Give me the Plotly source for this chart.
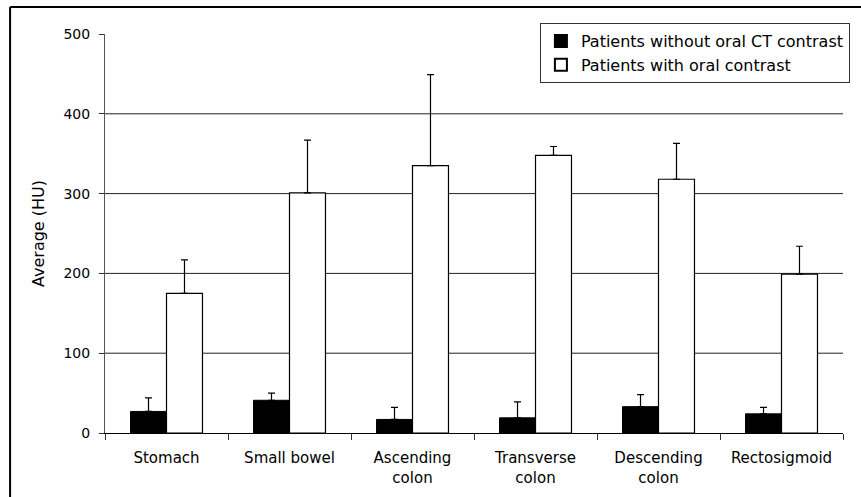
import plotly.graph_objects as go

# Mean attenuation (HU) per bowel segment, with upper standard-deviation whiskers
segments = ["Stomach", "Small bowel", "Ascending<br>colon", "Transverse<br>colon",
            "Descending<br>colon", "Rectosigmoid"]
without_contrast = [27, 41, 17, 19, 33, 24]
without_contrast_sd = [17, 9, 15, 20, 15, 8]
with_contrast = [175, 301, 335, 348, 318, 199]
with_contrast_sd = [42, 66, 114, 11, 45, 35]
y_ticks = [0, 100, 200, 300, 400, 500]
grid_values = [100, 200, 300, 400]

FONT = "DejaVu Sans"

fig = go.Figure()
fig.add_trace(go.Bar(
    x=segments, y=without_contrast, name="Patients without oral CT contrast",
    marker=dict(color="black", line=dict(color="black", width=1)),
    error_y=dict(type="data", symmetric=False, array=without_contrast_sd,
                 arrayminus=[0] * len(segments), color="black", thickness=1.2, width=3.5),
))
fig.add_trace(go.Bar(
    x=segments, y=with_contrast, name="Patients with oral contrast",
    marker=dict(color="white", line=dict(color="black", width=1.2)),
    error_y=dict(type="data", symmetric=False, array=with_contrast_sd,
                 arrayminus=[0] * len(segments), color="black", thickness=1.2, width=3.5),
))

# horizontal reference lines (none at the top of the axis)
for g in grid_values:
    fig.add_shape(type="line", xref="paper", yref="y", x0=0, x1=1, y0=g, y1=g,
                  line=dict(color="#222222", width=1), layer="below")

# frame edges around the figure: top and left
fig.add_shape(type="line", xref="paper", yref="paper",
              x0=-0.1286, x1=1.1, y0=1.0677, y1=1.0677,
              line=dict(color="black", width=2))
fig.add_shape(type="line", xref="paper", yref="paper",
              x0=-0.1286, x1=-0.1286, y0=-0.3, y1=1.0677,
              line=dict(color="black", width=2))

fig.update_layout(
    width=861, height=497,
    margin=dict(l=105, r=17, t=34, b=64),
    plot_bgcolor="white", paper_bgcolor="white",
    barmode="group", bargap=0.415, bargroupgap=0,
    font=dict(family=FONT, color="black", size=14),
    showlegend=True,
    legend=dict(x=1.008, y=1.0276, xanchor="right", yanchor="top",
                bgcolor="white", bordercolor="#333333", borderwidth=1,
                font=dict(family=FONT, size=16, color="black"),
                tracegroupgap=0, itemsizing="constant", itemwidth=30),
)
fig.update_xaxes(
    type="category", tickson="boundaries", showgrid=False, automargin=False,
    ticks="outside", ticklen=6, tickcolor="#333333",
    showline=True, linecolor="black", linewidth=1.2,
    tickfont=dict(family=FONT, size=15), ticklabelstandoff=11,
)
fig.update_yaxes(
    range=[0, 500], tickvals=y_ticks, showgrid=False, zeroline=False,
    ticks="outside", ticklen=5, tickcolor="#333333", automargin=False,
    showline=True, linecolor="#555555", linewidth=1,
    tickfont=dict(family=FONT, size=14), ticklabelstandoff=6,
    title=dict(text="Average (HU)", font=dict(family=FONT, size=16), standoff=14),
)

fig.write_html("out.html")
